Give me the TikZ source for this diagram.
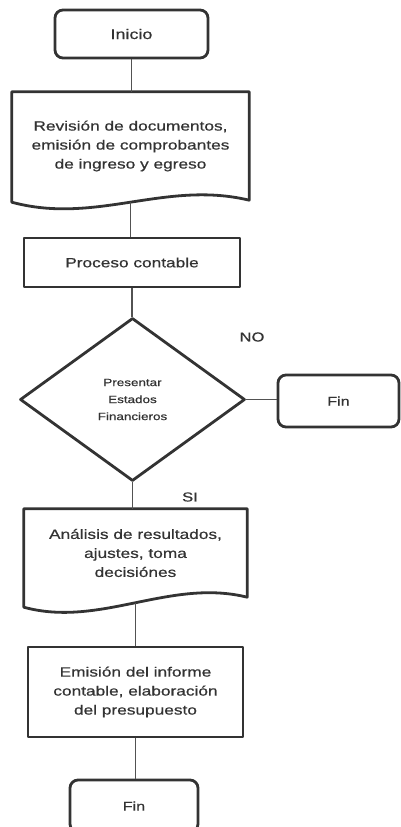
\documentclass[tikz,border=0pt]{standalone}
\usepackage{fontspec}
\setmainfont[FakeStretch=1.28,FakeBold=0.6]{Liberation Sans}
\usetikzlibrary{positioning,calc,shapes.geometric}
\definecolor{ink}{HTML}{333333}
\def\bxfont{\fontsize{13.5}{19}\selectfont}
\def\smfont{\fontsize{10.5}{17}\selectfont}
\tikzset{outline/.style={draw=ink,line width=2.8pt,line join=round}  }
\tikzset{startbox/.style={outline,rounded corners=8pt,text=ink,font=\fontsize{12.5}{15}\selectfont}  }
\tikzset{procbox/.style={outline,text=ink,align=center,font=\bxfont}  }
\tikzset{docbox/.style={text=ink,align=center,font=\bxfont}  }
\tikzset{decbox/.style={outline,diamond,aspect=1.38,inner sep=0pt,text=ink,align=center,font=\smfont}  }
\tikzset{conn/.style={draw=ink!85,line width=1.2pt}  }
\tikzset{tag/.style={text=ink,font=\fontsize{13}{15}\selectfont}  }

\begin{document}
\begin{tikzpicture}[x=1pt,y=-1pt]
	\useasboundingbox (0,0) rectangle (401,827);
		\node[startbox,minimum width=153pt,minimum height=48pt,font=\fontsize{14}{16}\selectfont] (ini) at (131.5,34) {Inicio};
		\node[docbox,minimum width=237pt,minimum height=108pt] (rev) at (130.5,146) {Revisión de documentos,\\ emisión de comprobantes\\ de ingreso y egreso};
		\draw[outline] (rev.south east) .. controls (165,180) and (96,225) .. coordinate[pos=.5] (revb) ([yshift=-2pt]rev.south west) -- (rev.north west) -- (rev.north east) -- cycle;
		\node[procbox,minimum width=216pt,minimum height=49pt] (proc) at (132,262.5) {Proceso contable};
		\node[decbox,minimum width=225pt,minimum height=163pt] (dec) at (132.5,399.5) {Presentar\\ Estados\\ Financieros};
		\node[startbox,minimum width=121pt,minimum height=52pt] (finr) at (338.5,401) {Fin};
		\node[docbox,minimum width=223pt,minimum height=88pt] (ana) at (135.5,553) {Análisis de resultados,\\ ajustes, toma\\ decisiónes};
		\draw[outline] (ana.south east) .. controls (170,578) and (100,628) .. coordinate[pos=.5] (anab) ([yshift=-10pt]ana.south west) -- (ana.north west) -- (ana.north east) -- cycle;
		\node[procbox,minimum width=215pt,minimum height=90pt] (emi) at (135.5,692) {Emisión del informe\\ contable, elaboración\\ del presupuesto};
		\node[startbox,minimum width=128pt,minimum height=52pt] (finb) at (134,806) {Fin};

		\node[tag] (no) at (252,337) {NO};
		\node[tag] (si) at (190,497) {SI};

		\draw[conn] (ini.south) -- (ini.south |- rev.north);
		\draw[conn] (revb) -- (revb |- proc.north);
		\draw[conn] (proc.south) -- (proc.south |- dec.north);
		\draw[conn] (dec.east) -- (dec.east -| finr.west);
		\draw[conn] (dec.south) -- (dec.south |- ana.north);
		\draw[conn] (anab) -- (anab |- emi.north);
		\draw[conn] (emi.south) -- (emi.south |- finb.north);
\end{tikzpicture}
\end{document}
